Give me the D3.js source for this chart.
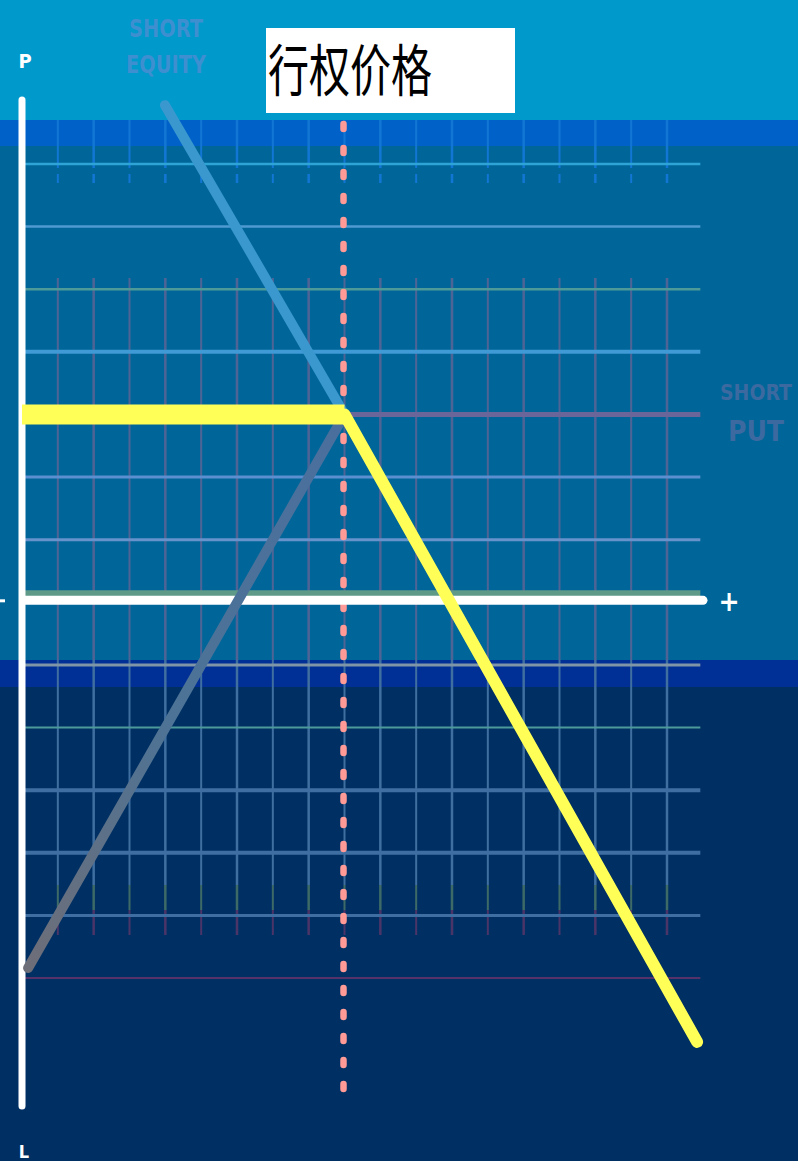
<!DOCTYPE html>
<html><head><meta charset="utf-8">
<script src="https://cdn.jsdelivr.net/npm/d3@7"></script>
<style>html,body{margin:0;padding:0;background:#003366;}svg{display:block;}</style>
</head><body>
<svg id="c" width="798" height="1161"></svg>
<script>
// ---- data (grid units: x = underlying price, y = profit / loss) ----
const strike = 9;
const xGrid = [1,2,3,4,5,6,7,8,9,10,11,12,13,14,15,16,17,18];
const yGrid = [7,6,5,4,3,2,1,-1,-2,-3,-4,-5,-6];
const shortPutX = [0, 9, 18.84];
const shortPutY = [3, 3, -7.02];
const shortEquityX = [3.99, 9];
const shortEquityY = [7.94, 3];
const longLegX = [0.17, 9];
const longLegY = [-5.84, 3];
const titleText = "行权价格";
const labelsShortEquity = ["SHORT", "EQUITY"];
const labelsShortPut = ["SHORT", "PUT"];

const svg = d3.select("#c");
const W = 798, H = 1161;
const x = d3.scaleLinear().domain([0, 18]).range([22, 667]);
const y = d3.scaleLinear().domain([7, -6]).range([164, 978]);

// background bands
const bands = [[0,120,"#0099cc"],[120,146,"#0062c8"],[146,660,"#006699"],[660,687,"#002f96"],[687,H,"#003063"]];
svg.selectAll("rect.band").data(bands).enter().append("rect")
  .attr("x",0).attr("y",d=>d[0]).attr("width",W).attr("height",d=>d[1]-d[0]).attr("fill",d=>d[2]);

const g = svg.append("g");
const gx0 = x(0.08), gx1 = x(18.93);

// vertical grid lines
xGrid.forEach((v,i)=>{
  const px = x(v), w = i%2===0 ? 2 : 2.5;
  g.append("line").attr("x1",px).attr("x2",px).attr("y1",120).attr("y2",168).attr("stroke","#1277d4").attr("stroke-width",w);
  g.append("line").attr("x1",px).attr("x2",px).attr("y1",174).attr("y2",183).attr("stroke","#1277d4").attr("stroke-width",w);
  g.append("line").attr("x1",px).attr("x2",px).attr("y1",278).attr("y2",660).attr("stroke","#4f6496").attr("stroke-width",w);
  g.append("line").attr("x1",px).attr("x2",px).attr("y1",660).attr("y2",885).attr("stroke","#3f6ea0").attr("stroke-width",w);
  g.append("line").attr("x1",px).attr("x2",px).attr("y1",885).attr("y2",910).attr("stroke","#3d6a66").attr("stroke-width",w);
  g.append("line").attr("x1",px).attr("x2",px).attr("y1",910).attr("y2",935).attr("stroke","#4a3468").attr("stroke-width",w);
});

// horizontal grid lines
const hStyle = {7:["#2ea3d6",2.5],6:["#4f9ad0",2.5],5:["#4d9a98",2.5],4:["#3f9ad6",4],3:["#6a6699",5],2:["#5b8fd0",3],1:["#6693cc",3],
  "-1":["#7f95a8",3],"-2":["#4c9a9a",2],"-3":["#3f6ea2",4],"-4":["#3f6ea2",4],"-5":["#3f6ea2",3],"-6":["#55336a",2]};
g.selectAll("line.h").data(yGrid).enter().append("line")
  .attr("x1",gx0).attr("x2",gx1).attr("y1",d=>y(d)).attr("y2",d=>y(d))
  .attr("stroke",d=>hStyle[d][0]).attr("stroke-width",d=>hStyle[d][1]);
// band above zero axis
g.append("line").attr("x1",gx0).attr("x2",gx1).attr("y1",y(0)-9).attr("y2",y(0)-9).attr("stroke","#5f9988").attr("stroke-width",6);

// strike dotted line
g.append("line").attr("x1",x(strike)-1).attr("x2",x(strike)-1).attr("y1",124).attr("y2",1106)
  .attr("stroke","#ff9a96").attr("stroke-width",6.5).attr("stroke-linecap","round").attr("stroke-dasharray","5,19");

// zero axis (horizontal) and P/L axis (vertical)
g.append("line").attr("x1",25).attr("x2",703).attr("y1",y(0)-2).attr("y2",y(0)-2).attr("stroke","#ffffff").attr("stroke-width",9).attr("stroke-linecap","round");
g.append("line").attr("x1",22).attr("x2",22).attr("y1",100).attr("y2",1106).attr("stroke","#ffffff").attr("stroke-width",7).attr("stroke-linecap","round");

const line = d3.line().x(d=>x(d[0])).y(d=>y(d[1]));

// ascending leg (gradient gray -> steel blue)
const defs = svg.append("defs");
const grad = defs.append("linearGradient").attr("id","lg").attr("gradientUnits","userSpaceOnUse")
  .attr("x1",x(longLegX[0])).attr("y1",y(longLegY[0])).attr("x2",x(longLegX[1])).attr("y2",y(longLegY[1]));
grad.append("stop").attr("offset","0").attr("stop-color","#6e6e78");
grad.append("stop").attr("offset","0.45").attr("stop-color","#4d7396");
grad.append("stop").attr("offset","1").attr("stop-color","#4a6f9e");
g.append("path").datum(d3.zip(longLegX,longLegY)).attr("d",line).attr("fill","none")
  .attr("stroke","url(#lg)").attr("stroke-width",10).attr("stroke-linecap","round");

// short equity (descending)
g.append("path").datum(d3.zip(shortEquityX,shortEquityY)).attr("d",line).attr("fill","none")
  .attr("stroke","#3a98cf").attr("stroke-width",10).attr("stroke-linecap","round");

// short put (yellow): flat part thicker
const putPts = d3.zip(shortPutX, shortPutY);
d3.pairs(putPts).forEach(([a,b])=>{
  const flat = a[1]===b[1];
  g.append("path").datum([a,b]).attr("d",line).attr("fill","none")
    .attr("stroke","#ffff58").attr("stroke-width",flat?20:12)
    .attr("stroke-linecap",flat?"butt":"round").attr("stroke-linejoin","round");
});

// labels
const lab = svg.append("g").attr("font-family","'DejaVu Sans Condensed','DejaVu Sans',sans-serif").attr("font-weight","bold");
lab.selectAll("text.se").data(labelsShortEquity).enter().append("text")
  .attr("x",166).attr("y",(d,i)=>37+i*36).attr("text-anchor","middle").attr("font-size",25)
  .attr("fill","#3d8fd0").attr("textLength",(d,i)=>i===0?74:80).attr("lengthAdjust","spacingAndGlyphs").text(d=>d);
lab.selectAll("text.sp").data(labelsShortPut).enter().append("text")
  .attr("x",756).attr("y",(d,i)=>i===0?400:441).attr("text-anchor","middle")
  .attr("font-size",(d,i)=>i===0?21:28)
  .attr("fill","#3c6aa0").text(d=>d);

lab.append("text").attr("x",25).attr("y",68).attr("text-anchor","middle").attr("font-size",20).attr("fill","#fff").text("P");
lab.append("text").attr("x",24).attr("y",1158).attr("text-anchor","middle").attr("font-size",18).attr("fill","#fff").text("L");
lab.append("rect").attr("x",0).attr("y",y(0)-3).attr("width",5).attr("height",3).attr("fill","#fff");
lab.append("text").attr("x",729).attr("y",y(0)+9).attr("text-anchor","middle").attr("font-size",28).attr("fill","#fff").text("+");

// title box
svg.append("rect").attr("x",266).attr("y",28).attr("width",249).attr("height",85).attr("fill","#ffffff");
svg.append("text").attr("x",268).attr("y",91).attr("font-family","'Noto Sans CJK SC',sans-serif")
  .attr("font-size",56).attr("fill","#000").attr("textLength",164).attr("lengthAdjust","spacingAndGlyphs").text(titleText);
</script>
</body></html>
